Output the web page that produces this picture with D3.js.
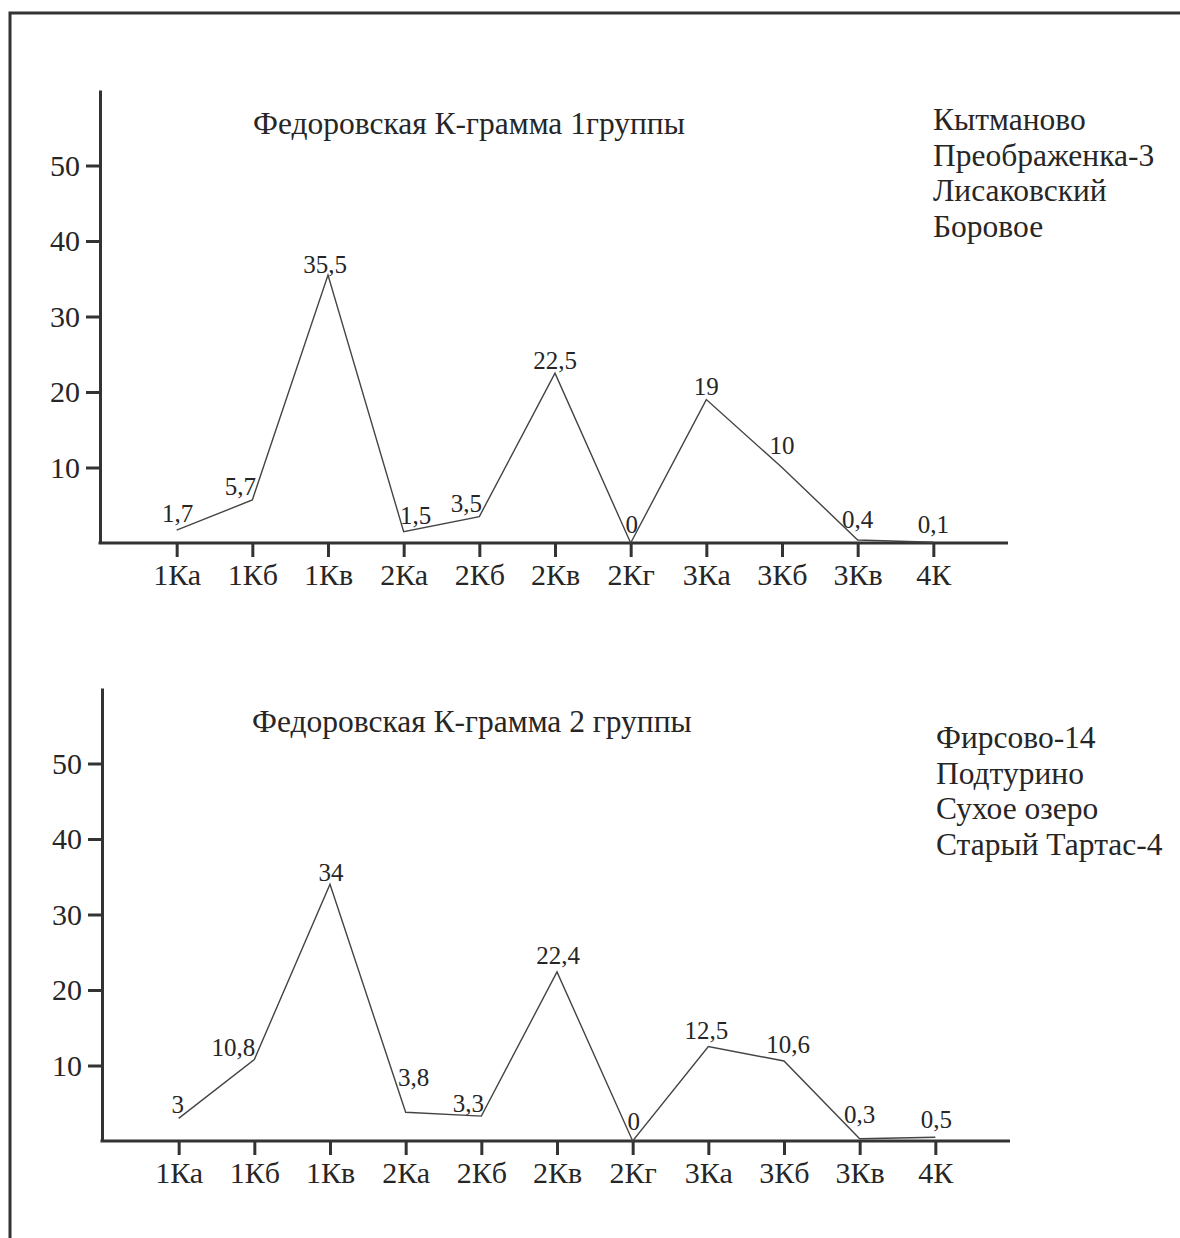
<!DOCTYPE html>
<html>
<head>
<meta charset="utf-8">
<script src="https://cdn.jsdelivr.net/npm/d3@7"></script>
<style>
  body { margin: 0; background: #fff; }
  svg text { font-family: "Liberation Serif", "DejaVu Serif", serif; fill: #262626; }
  .axis path, .axis line { stroke: #333; stroke-width: 3; }
  .axis text { font-size: 30px; }
</style>
</head>
<body>
<div></div>
<script>
'use strict';

// Categories (K-types)
var categories = ["1Ка", "1Кб", "1Кв", "2Ка", "2Кб", "2Кв", "2Кг", "3Ка", "3Кб", "3Кв", "4К"];
var yTicks = [10, 20, 30, 40, 50];

// Group 1
var title1 = "Федоровская К-грамма 1группы";
var sites1 = ["Кытманово", "Преображенка-3", "Лисаковский", "Боровое"];
var values1 = [1.7, 5.7, 35.5, 1.5, 3.5, 22.5, 0, 19, 10, 0.4, 0.1];
var labels1 = ["1,7", "5,7", "35,5", "1,5", "3,5", "22,5", "0", "19", "10", "0,4", "0,1"];

// Group 2
var title2 = "Федоровская К-грамма 2 группы";
var sites2 = ["Фирсово-14", "Подтурино", "Сухое озеро", "Старый Тартас-4"];
var values2 = [3, 10.8, 34, 3.8, 3.3, 22.4, 0, 12.5, 10.6, 0.3, 0.5];
var labels2 = ["3", "10,8", "34", "3,8", "3,3", "22,4", "0", "12,5", "10,6", "0,3", "0,5"];

// Value label offsets from their points (layout only)
var offsets1 = [[1,-8],[-12,-5],[-3,-2],[12,-8],[-13,-5],[0,-4],[1,-10],[0,-5],[0,-14],[0,-12],[0,-9]];
var offsets2 = [[-1,-5],[-21,-3],[1,-3],[8,-26],[-13,-4],[1,-8],[1,-11],[-2,-8],[4,-8],[0,-16],[1,-9]];

var svgWidth = 1180;
var svgHeight = 1238;

var svg = d3.select("body").select("div")
  .append("svg")
    .attr("width", svgWidth)
    .attr("height", svgHeight);

// Frame (top and left edges)
svg.append("path")
    .attr("d", "M10,1238 V13 H1180")
    .attr("fill", "none")
    .attr("stroke", "#333")
    .attr("stroke-width", 3);

function drawPanel(p) {
  var xScale = d3.scalePoint()
      .domain(categories)
      .range([p.left + 1, p.left + 909])
      .padding(1);

  var yScale = d3.scaleLinear()
      .domain([0, 60])
      .range([p.bottom, p.top]);

  var g = svg.append("g");

  g.append("g")
      .attr("class", "axis")
      .attr("transform", "translate(0," + p.bottom + ")")
    .call(d3.axisBottom(xScale).tickSize(14).tickSizeOuter(0).tickPadding(7))
    .call(function(a) { a.select(".domain").attr("d", "M" + (p.left - 1.5) + ",0H" + (p.left + 908)); });

  g.append("g")
      .attr("class", "axis")
      .attr("transform", "translate(" + p.left + ",0)")
    .call(d3.axisLeft(yScale).tickValues(yTicks).tickSize(14).tickSizeOuter(0).tickPadding(6));

  var line = d3.line()
      .x(function(d, i) { return xScale(categories[i]); })
      .y(function(d) { return yScale(d); });

  g.append("path")
      .datum(p.values)
      .attr("fill", "none")
      .attr("stroke", "#444")
      .attr("stroke-width", 1.4)
      .attr("d", line);

  g.selectAll(".vlabel")
      .data(p.values)
      .enter().append("text")
      .attr("class", "vlabel")
      .attr("text-anchor", "middle")
      .attr("font-size", 25)
      .attr("x", function(d, i) { return xScale(categories[i]) + p.offsets[i][0]; })
      .attr("y", function(d, i) { return yScale(d) + p.offsets[i][1]; })
      .text(function(d, i) { return p.labels[i]; });

  g.append("text")
      .attr("x", p.titleX)
      .attr("y", p.top + 44)
      .attr("font-size", 31.5)
      .text(p.title);

  g.selectAll(".site")
      .data(p.sites)
      .enter().append("text")
      .attr("class", "site")
      .attr("x", p.sitesX)
      .attr("y", function(d, i) { return p.sitesY + i * 35.5; })
      .attr("font-size", 31.5)
      .text(function(d) { return d; });
}

drawPanel({ left: 100, top: 90, bottom: 543, values: values1, labels: labels1,
            offsets: offsets1, title: title1, titleX: 253,
            sites: sites1, sitesX: 933, sitesY: 130 });
drawPanel({ left: 102, top: 688, bottom: 1141, values: values2, labels: labels2,
            offsets: offsets2, title: title2, titleX: 252,
            sites: sites2, sitesX: 936, sitesY: 748 });
</script>
</body>
</html>
